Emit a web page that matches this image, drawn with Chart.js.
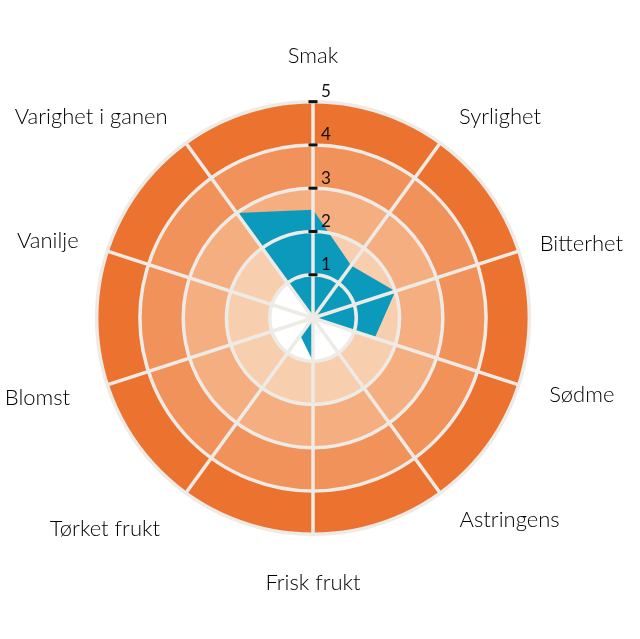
<!DOCTYPE html>
<html>
<head>
<meta charset="utf-8">
<script src="https://cdn.jsdelivr.net/npm/chart.js@4/dist/chart.umd.min.js"></script>
<style>
  html, body { margin: 0; padding: 0; background: #fff; }
  #wrap { width: 640px; height: 639px; }
</style>
</head>
<body>
<div id="wrap"><canvas id="chart"></canvas></div>
<script>
const labels = ['Smak', 'Syrlighet', 'Bitterhet', 'Sødme', 'Astringens',
    'Frisk frukt', 'Tørket frukt', 'Blomst', 'Vanilje', 'Varighet i ganen'];
const scores = [2.5, 1.5, 2, 1.5, 0, 1, 0.5, 0, 0, 3];
const ringLevels = [1, 2, 3, 4, 5];
const ringColors = ['#ffffff', '#f8cfae', '#f4ae80', '#f0925a', '#ec7230'];
const tickLabels = ['1', '2', '3', '4', '5'];

const gridColor = '#eeebe7';
// how far each category name sits outside the outer ring
const labelGaps = [45, 32, 22, 32, 33, 48, 44, 39, 30, 31];

// background bands: one polar area per level, bigger ones drawn first
let datasets = [{
    type: 'radar',
    data: scores,
    backgroundColor: '#0b9abc',
    borderWidth: 0,
    pointRadius: 0,
    fill: true,
    order: 0
}];
ringLevels.forEach((level, i) => {
    datasets.push({
        type: 'polarArea',
        data: labels.map(() => level),
        backgroundColor: ringColors[i],
        borderWidth: 0,
        order: level
    });
});

// little black marks and numbers on the top spoke
const tickMarks = {
    id: 'tickMarks',
    afterDraw(chart) {
        let scale = chart.scales.r,
            ctx = chart.ctx;
        ctx.save();
        ctx.fillStyle = '#111';
        ctx.font = '17px Lato, "Open Sans", sans-serif';
        ctx.textAlign = 'left';
        ctx.textBaseline = 'middle';
        scale.ticks.forEach((tick) => {
            if (!tick.value) return;
            let d = scale.getDistanceFromCenterForValue(tick.value),
                x = scale.xCenter,
                y = scale.yCenter - d;
            ctx.fillRect(x - 4.5, y - 1.5, 9, 3);
            ctx.fillText(tickLabels[tick.value - 1], x + 8, y - 10);
        });
        ctx.restore();
    }
};

new Chart(document.getElementById('chart'), {
    type: 'radar',
    data: { labels: labels, datasets: datasets },
    options: {
        responsive: true,
        maintainAspectRatio: false,
        animation: false,
        layout: { padding: { left: 4, right: 16, top: 11, bottom: 9 } },
        plugins: { legend: { display: false }, tooltip: { enabled: false } },
        scales: {
            r: {
                min: 0,
                max: 5,
                beginAtZero: true,
                ticks: { stepSize: 1, display: false },
                grid: { circular: true, color: gridColor, lineWidth: 3.5, z: 1 },
                angleLines: { display: true, color: gridColor, lineWidth: 3.5 },
                pointLabels: {
                    display: true,
                    color: '#000',
                    padding: (ctx) => labelGaps[ctx.index],
                    font: { family: 'Lato, "Open Sans", sans-serif', size: 22, weight: '300', lineHeight: 0.05 }
                }
            }
        }
    },
    plugins: [tickMarks]
});
</script>
</body>
</html>
